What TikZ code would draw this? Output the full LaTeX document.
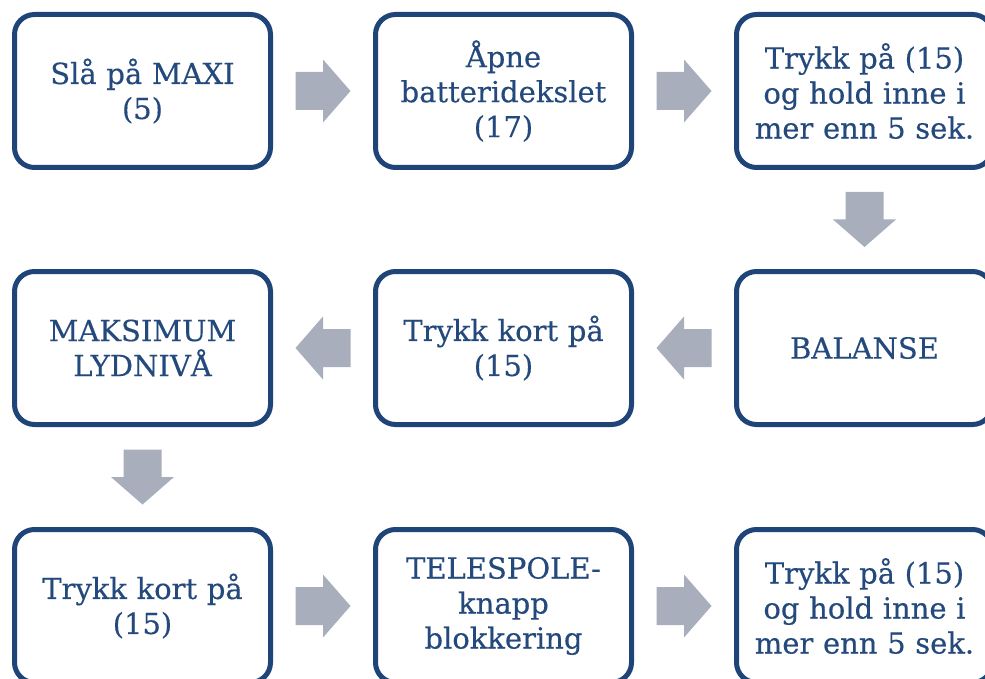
\documentclass[tikz,border=0pt]{standalone}
\usepackage{fontspec}
\setmainfont{DejaVu Serif}
\newfontfamily\boxfont[FakeBold=0.35]{DejaVu Serif}
\usetikzlibrary{calc}
\definecolor{boxblue}{HTML}{1F4478}
\definecolor{textblue}{HTML}{24497C}
\definecolor{arrowgray}{HTML}{A9AEBC}
\newcommand\blockarrow[2]{%
  \fill[arrowgray, shift={(#1)}, rotate=#2]
    (-27.5,-19) -- (0,-19) -- (0,-31.5) -- (27.5,0) -- (0,31.5) -- (0,19) -- (-27.5,19) -- cycle;}
\begin{document}
\begin{tikzpicture}[x=1pt,y=-1pt,
  stepbox/.style={draw=boxblue, line width=5pt, rounded corners=20pt, fill=white,
    minimum width=256pt, minimum height=153pt, inner sep=0pt,
    text=textblue, align=center, text width=250pt,
    font=\boxfont\fontsize{29}{35}\selectfont}]
\useasboundingbox (0,0) rectangle (985,679);
\node[stepbox] (b1) at (142.5,91) {Slå på MAXI\\(5)};
\node[stepbox] (b2) at (503.5,91) {Åpne\\batteridekslet\\(17)};
\node[stepbox] (b3) at (864.5,91) {Trykk på (15)\\og hold inne i\\mer enn 5 sek.};
\node[stepbox] (b4) at (142.5,348) {MAKSIMUM\\LYDNIVÅ};
\node[stepbox] (b5) at (503.5,348) {Trykk kort på\\(15)};
\node[stepbox] (b6) at (864.5,348) {BALANSE};
\node[stepbox] (b7) at (142.5,606) {Trykk kort på\\(15)};
\node[stepbox] (b8) at (503.5,606) {TELESPOLE-\\knapp\\blokkering};
\node[stepbox] (b9) at (864.5,606) {Trykk på (15)\\og hold inne i\\mer enn 5 sek.};
\coordinate (a12) at ($(b1.east)!0.5!(b2.west)$);
\coordinate (a23) at ($(b2.east)!0.5!(b3.west)$);
\coordinate (a36) at ($(b3.south)!0.5!(b6.north)$);
\coordinate (a65) at ($(b6.west)!0.5!(b5.east)$);
\coordinate (a54) at ($(b5.west)!0.5!(b4.east)$);
\coordinate (a47) at ($(b4.south)!0.5!(b7.north)$);
\coordinate (a78) at ($(b7.east)!0.5!(b8.west)$);
\coordinate (a89) at ($(b8.east)!0.5!(b9.west)$);
\blockarrow{a12}{0}
\blockarrow{a23}{0}
\blockarrow{a36}{-90}
\blockarrow{a65}{180}
\blockarrow{a54}{180}
\blockarrow{a47}{-90}
\blockarrow{a78}{0}
\blockarrow{a89}{0}
\end{tikzpicture}
\end{document}
